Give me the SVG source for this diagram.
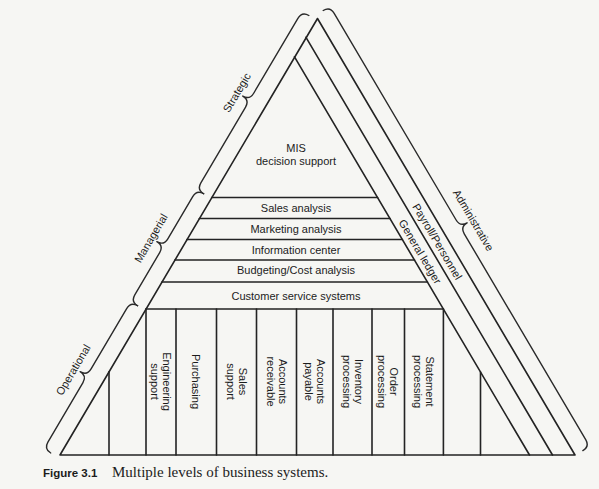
<svg xmlns="http://www.w3.org/2000/svg" width="599" height="489" viewBox="0 0 599 489">
<style>
.ln{stroke:#232323;stroke-width:1.6;fill:none;stroke-linecap:round;stroke-linejoin:round}
.br{stroke:#2a2a2a;stroke-width:1.4;fill:none;stroke-linecap:round;stroke-linejoin:round}
.t{font-family:"Liberation Sans",Arial,sans-serif;font-size:11px;fill:#1c1c1c;text-anchor:middle}
.cap{font-family:"Liberation Serif","Times New Roman",serif;font-size:15px;fill:#1c1c1c}
.fig{font-family:"Liberation Sans",Arial,sans-serif;font-size:11.5px;font-weight:bold;fill:#1c1c1c}
</style>
<rect width="599" height="489" fill="#f6f6f3"/>

<g id="frame">
  <polyline class="ln" points="60,455 317.5,18.5 575,455 60,455"/>
  <line class="ln" x1="306" y1="37.3" x2="552.5" y2="455"/>
  <line class="ln" x1="294.5" y1="56.8" x2="529.5" y2="455"/>
</g>

<g id="bands">
  <g id="mis">
    <text class="t" x="296" y="152">MIS</text>
    <text class="t" x="296" y="165">decision support</text>
    <line class="ln" x1="211.7" y1="197.5" x2="377.6" y2="197.5"/>
  </g>
  <g id="sales-analysis">
    <text class="t" x="296" y="212">Sales analysis</text>
    <line class="ln" x1="199.3" y1="218.5" x2="390" y2="218.5"/>
  </g>
  <g id="marketing-analysis">
    <text class="t" x="296" y="233">Marketing analysis</text>
    <line class="ln" x1="186.9" y1="239.5" x2="402.4" y2="239.5"/>
  </g>
  <g id="information-center">
    <text class="t" x="296" y="254">Information center</text>
    <line class="ln" x1="174.9" y1="260" x2="414.5" y2="260"/>
  </g>
  <g id="budgeting">
    <text class="t" x="296" y="274">Budgeting/Cost analysis</text>
    <line class="ln" x1="161.9" y1="282" x2="427.4" y2="282"/>
  </g>
  <g id="customer-service">
    <text class="t" x="296" y="299.5">Customer service systems</text>
    <line class="ln" x1="146" y1="309" x2="443.4" y2="309"/>
  </g>
</g>

<g id="columns">
  <line class="ln" x1="109" y1="371.8" x2="109" y2="455"/>
  <line class="ln" x1="146" y1="309" x2="146" y2="455"/>
  <line class="ln" x1="176" y1="309" x2="176" y2="455"/>
  <line class="ln" x1="216.5" y1="309" x2="216.5" y2="455"/>
  <line class="ln" x1="256.5" y1="309" x2="256.5" y2="455"/>
  <line class="ln" x1="296.5" y1="309" x2="296.5" y2="455"/>
  <line class="ln" x1="333" y1="309" x2="333" y2="455"/>
  <line class="ln" x1="372" y1="309" x2="372" y2="455"/>
  <line class="ln" x1="404.5" y1="309" x2="404.5" y2="455"/>
  <line class="ln" x1="443.4" y1="309" x2="443.4" y2="455"/>
  <line class="ln" x1="480.5" y1="372" x2="480.5" y2="455"/>
  <g id="engineering-support"><text class="t" transform="translate(161,381.5) rotate(90)"><tspan x="0" y="-2">Engineering</tspan><tspan x="0" y="10">support</tspan></text></g>
  <g id="purchasing"><text class="t" transform="translate(196.3,381.5) rotate(90)"><tspan x="0" y="4">Purchasing</tspan></text></g>
  <g id="sales-support"><text class="t" transform="translate(236.5,381.5) rotate(90)"><tspan x="0" y="-2">Sales</tspan><tspan x="0" y="10">support</tspan></text></g>
  <g id="accounts-receivable"><text class="t" transform="translate(276.5,381.5) rotate(90)"><tspan x="0" y="-2">Accounts</tspan><tspan x="0" y="10">receivable</tspan></text></g>
  <g id="accounts-payable"><text class="t" transform="translate(314.8,381.5) rotate(90)"><tspan x="0" y="-2">Accounts</tspan><tspan x="0" y="10">payable</tspan></text></g>
  <g id="inventory-processing"><text class="t" transform="translate(352.5,381.5) rotate(90)"><tspan x="0" y="-2">Inventory</tspan><tspan x="0" y="10">processing</tspan></text></g>
  <g id="order-processing"><text class="t" transform="translate(388.3,381.5) rotate(90)"><tspan x="0" y="-2">Order</tspan><tspan x="0" y="10">processing</tspan></text></g>
  <g id="statement-processing"><text class="t" transform="translate(424,381.5) rotate(90)"><tspan x="0" y="-2">Statement</tspan><tspan x="0" y="10">processing</tspan></text></g>
</g>

<g id="left-braces" transform="translate(60,455) rotate(-59.46)">
  <g id="operational">
    <path class="br" d="M -3,-9 Q -3,-17 5,-17 L 74,-17 Q 82,-17 82,-25 Q 82,-17 90,-17 L 160,-17 Q 168,-17 168,-9"/>
    <text class="t" x="80" y="-28">Operational</text>
  </g>
  <g id="managerial">
    <path class="br" d="M 168,-9 Q 168,-17 176,-17 L 225,-17 Q 233,-17 233,-25 Q 233,-17 241,-17 L 290,-17 Q 298,-17 298,-9"/>
    <text class="t" x="233" y="-28">Managerial</text>
  </g>
  <g id="strategic">
    <path class="br" d="M 298,-9 Q 298,-17 306,-17 L 394,-17 Q 402,-17 402,-25 Q 402,-17 410,-17 L 497,-17 Q 505,-17 505,-9"/>
    <text class="t" x="402" y="-28">Strategic</text>
  </g>
</g>

<g id="right-side" transform="translate(317.5,18.5) rotate(59.46)">
  <g id="administrative">
    <path class="br" d="M -4,-9 Q -4,-17 4,-17 L 244,-17 Q 252,-17 252,-25 Q 252,-17 260,-17 L 499,-17 Q 507,-17 507,-9"/>
    <text class="t" x="253" y="-28">Administrative</text>
  </g>
  <g id="payroll"><text class="t" x="253" y="14">Payroll/Personnel</text></g>
  <g id="general-ledger"><text class="t" x="253" y="34">General ledger</text></g>
</g>

<g id="caption">
  <text class="fig" x="43" y="477">Figure 3.1</text>
  <text class="cap" x="112" y="477">Multiple levels of business systems.</text>
</g>
</svg>
